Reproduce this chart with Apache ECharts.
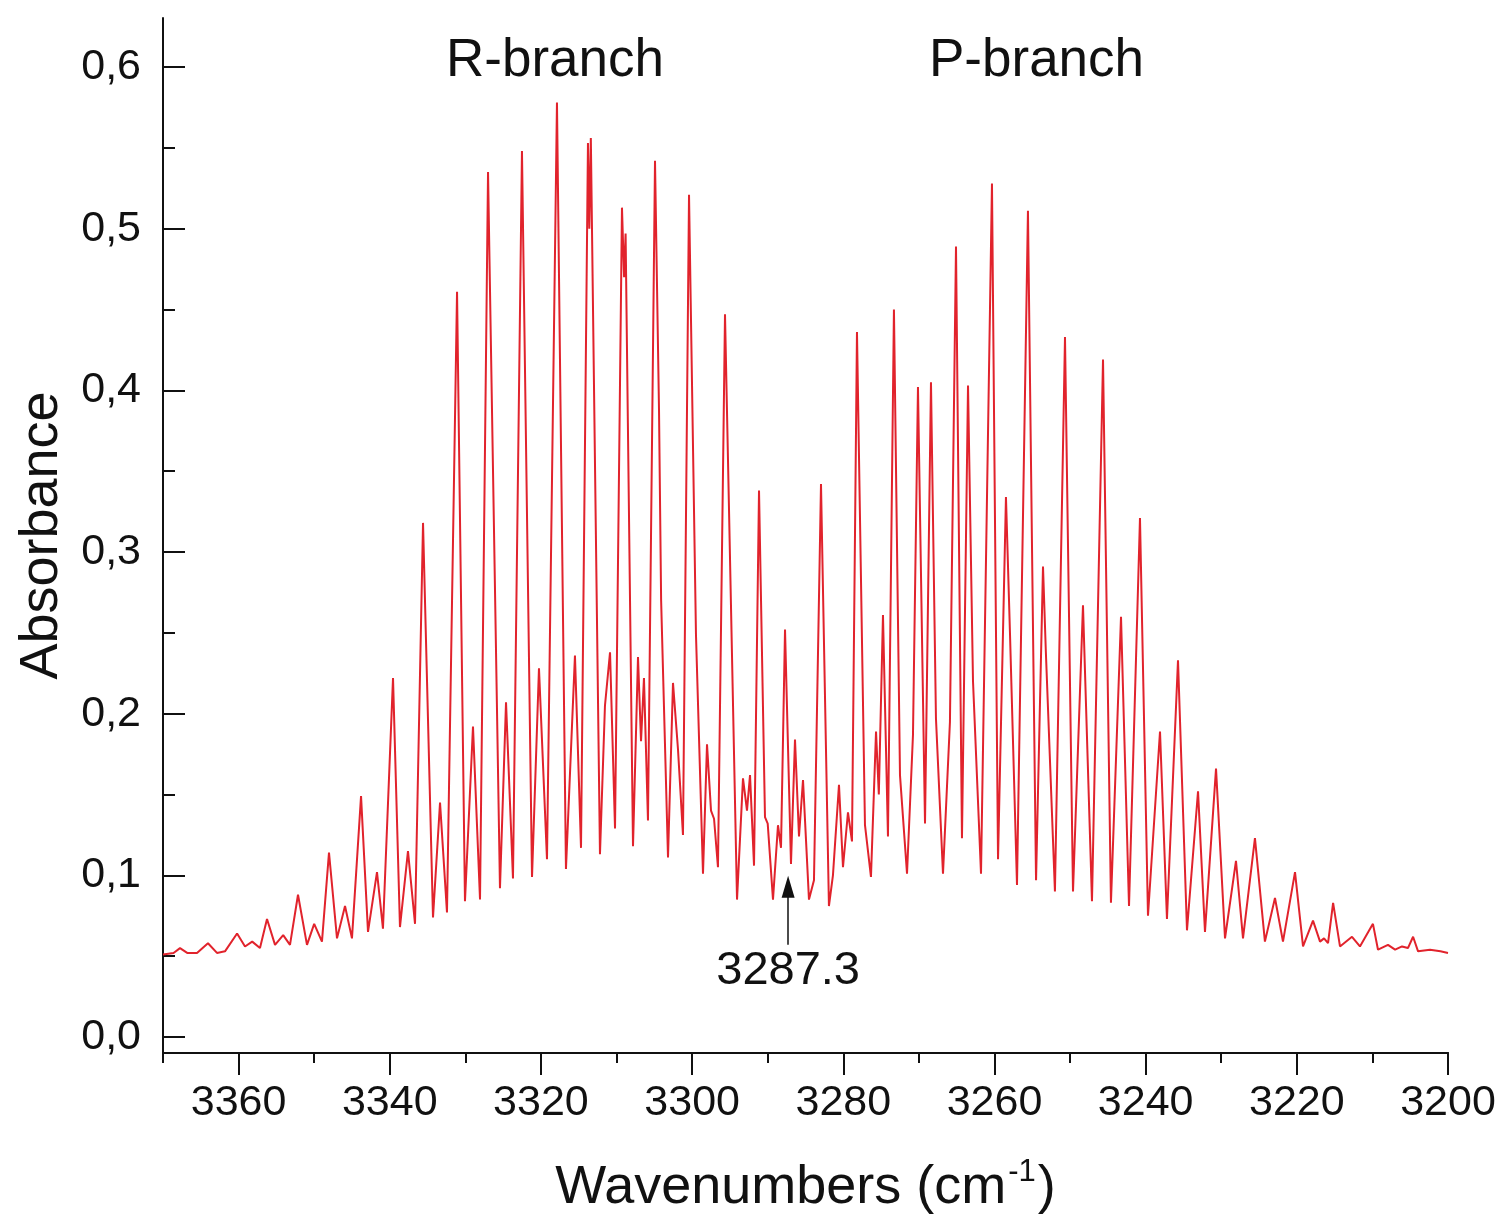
<!DOCTYPE html>
<html>
<head>
<meta charset="utf-8">
<script src="https://cdn.jsdelivr.net/npm/echarts@6.0.0/dist/echarts.min.js"></script>
<style>
  html, body { margin: 0; padding: 0; background: #ffffff; }
  #chart { width: 1503px; height: 1225px; }
</style>
</head>
<body>
<div id="chart"></div>
<script>
// ---- Data ----
const wavenumbers = [
  3370.0, 3368.6, 3367.75, 3366.8, 3365.5, 3364.05, 3362.86, 3361.8, 3360.2, 3359.15,
  3358.2, 3357.17, 3356.24, 3355.18, 3354.1, 3353.2, 3352.14, 3350.95, 3350.0, 3348.97,
  3348.04, 3346.98, 3345.92, 3345.0, 3343.8, 3342.88, 3341.69, 3340.9, 3339.57, 3338.65,
  3337.59, 3336.66, 3335.6, 3334.28, 3333.35, 3332.43, 3331.1, 3330.05, 3328.99, 3328.06,
  3327.0, 3325.42, 3324.62, 3323.7, 3322.51, 3321.18, 3320.26, 3319.2, 3317.88, 3316.69,
  3315.5, 3314.7, 3313.78, 3313.6, 3313.4, 3312.19, 3311.53, 3310.86, 3310.2, 3309.28,
  3309.0, 3308.8, 3308.5, 3307.82, 3307.16, 3306.76, 3306.37, 3305.84, 3304.91, 3304.38,
  3304.1, 3303.19, 3302.53, 3301.87, 3301.21, 3300.41, 3299.49, 3298.56, 3298.03, 3297.5,
  3297.1, 3296.58, 3295.65, 3294.06, 3293.27, 3292.74, 3292.34, 3291.81, 3291.15, 3290.36,
  3290.0, 3289.3, 3288.64, 3288.24, 3287.71, 3286.92, 3286.39, 3285.86, 3285.33, 3284.54,
  3283.88, 3282.95, 3281.9, 3281.37, 3280.57, 3280.04, 3279.38, 3278.85, 3278.19, 3277.13,
  3276.34, 3275.67, 3275.3, 3274.75, 3274.09, 3273.3, 3272.5, 3271.57, 3270.78, 3270.12,
  3269.19, 3268.4, 3267.74, 3266.81, 3265.89, 3265.09, 3264.3, 3263.5, 3262.84, 3261.78,
  3260.33, 3259.53, 3258.48, 3257.95, 3257.02, 3255.57, 3254.5, 3253.58, 3253.2, 3252.0,
  3250.67, 3249.61, 3248.29, 3247.1, 3245.64, 3244.59, 3243.26, 3242.2, 3240.75, 3239.69,
  3238.1, 3237.18, 3235.72, 3234.53, 3233.07, 3232.15, 3230.69, 3229.5, 3228.05, 3227.12,
  3225.54, 3224.22, 3222.89, 3221.83, 3220.24, 3219.18, 3217.86, 3216.93, 3216.4, 3215.87,
  3215.2, 3214.29, 3212.7, 3211.65, 3209.93, 3209.26, 3207.94, 3207.0, 3206.08, 3205.3,
  3204.62, 3203.96, 3202.38, 3201.0, 3200.0
];
const absorbance = [
  0.051, 0.052, 0.055, 0.052, 0.052, 0.058, 0.052, 0.053, 0.064, 0.056,
  0.059, 0.055, 0.073, 0.057, 0.063, 0.057, 0.088, 0.057, 0.070, 0.059,
  0.114, 0.061, 0.081, 0.061, 0.149, 0.065, 0.102, 0.067, 0.222, 0.068,
  0.115, 0.070, 0.318, 0.074, 0.145, 0.077, 0.461, 0.084, 0.192, 0.085,
  0.535, 0.092, 0.207, 0.098, 0.548, 0.099, 0.228, 0.110, 0.578, 0.104,
  0.236, 0.117, 0.553, 0.500, 0.556, 0.113, 0.205, 0.238, 0.129, 0.513,
  0.470, 0.497, 0.380, 0.118, 0.235, 0.183, 0.222, 0.134, 0.542, 0.388,
  0.270, 0.111, 0.219, 0.178, 0.125, 0.521, 0.249, 0.101, 0.181, 0.140,
  0.135, 0.105, 0.447, 0.085, 0.160, 0.140, 0.162, 0.106, 0.338, 0.136,
  0.132, 0.085, 0.131, 0.117, 0.252, 0.107, 0.184, 0.124, 0.159, 0.085,
  0.097, 0.342, 0.081, 0.100, 0.156, 0.105, 0.139, 0.121, 0.436, 0.131,
  0.099, 0.189, 0.150, 0.261, 0.124, 0.450, 0.162, 0.101, 0.187, 0.402,
  0.132, 0.405, 0.197, 0.101, 0.195, 0.489, 0.123, 0.403, 0.220, 0.101,
  0.528, 0.110, 0.334, 0.250, 0.094, 0.511, 0.097, 0.291, 0.238, 0.090,
  0.433, 0.090, 0.267, 0.084, 0.419, 0.083, 0.260, 0.081, 0.321, 0.075,
  0.189, 0.073, 0.233, 0.066, 0.152, 0.065, 0.166, 0.061, 0.109, 0.061,
  0.123, 0.059, 0.086, 0.059, 0.102, 0.056, 0.072, 0.059, 0.061, 0.058,
  0.083, 0.056, 0.062, 0.056, 0.070, 0.054, 0.057, 0.054, 0.056, 0.055,
  0.062, 0.053, 0.054, 0.053, 0.052
];
const yTicks = [0.0, 0.1, 0.2, 0.3, 0.4, 0.5, 0.6];
const xTickLabels = [3360, 3340, 3320, 3300, 3280, 3260, 3240, 3220, 3200];
const branchLabels = ['R-branch', 'P-branch'];
const annotationX = 3287.3;
const annotationArrow = [0.057, 0.093];
const annotationTextY = 0.041;

// ---- Chart ----
const FONT = '"Liberation Sans", Arial, sans-serif';
const INK = '#111111';
const chart = echarts.init(document.getElementById('chart'), null, { renderer: 'canvas' });

const seriesData = wavenumbers.map((w, i) => [w, absorbance[i]]);

const option = {
  animation: false,
  backgroundColor: '#ffffff',
  textStyle: { fontFamily: FONT },
  grid: [
    { left: 163, right: 55, top: 67, bottom: 188 },     // data grid (0 .. 0.6)
    { left: 163, right: 55, top: 18, bottom: 172 },     // frame grid (-0.01 .. 0.63)
    { left: 238.6, right: 55, top: 18, bottom: 172 }    // major x ticks (3360 .. 3200)
  ],
  xAxis: [
    { type: 'value', gridIndex: 0, min: 3200, max: 3370, inverse: true, show: false },
    {
      type: 'value', gridIndex: 1, min: 3200, max: 3370, interval: 10, inverse: true,
      axisLine: { show: true, lineStyle: { color: INK, width: 2 } },
      axisTick: { show: true, inside: false, length: 10, lineStyle: { color: INK, width: 2 } },
      axisLabel: { show: false },
      splitLine: { show: false },
      name: '{a|Wavenumbers (cm}{s|-1}{a|)}',
      nameLocation: 'middle',
      nameGap: 104,
      nameTextStyle: {
        rich: {
          a: { fontFamily: FONT, fontSize: 54, color: INK, lineHeight: 62 },
          s: { fontFamily: FONT, fontSize: 31, color: INK, verticalAlign: 'top', lineHeight: 62, padding: [0, 2, 22, 2] }
        }
      }
    },
    {
      type: 'value', gridIndex: 2, min: 3200, max: 3360, interval: 20, inverse: true,
      axisLine: { show: true, lineStyle: { color: INK, width: 2 } },
      axisTick: { show: true, inside: false, length: 22, lineStyle: { color: INK, width: 2 } },
      axisLabel: {
        show: true, fontFamily: FONT, fontSize: 43, color: INK, margin: 29,
        formatter: (v) => xTickLabels.includes(v) ? String(v) : ''
      },
      splitLine: { show: false }
    }
  ],
  yAxis: [
    {
      type: 'value', gridIndex: 0, min: 0, max: 0.6, interval: 0.1,
      axisLine: { show: true, lineStyle: { color: INK, width: 2 } },
      axisTick: { show: true, inside: true, length: 22, lineStyle: { color: INK, width: 2 } },
      minorTick: { show: true, splitNumber: 2, length: 12, lineStyle: { color: INK, width: 2 } },
      axisLabel: {
        show: true, fontFamily: FONT, fontSize: 43, color: INK, margin: 22,
        formatter: (v) => {
          const r = Math.round(v * 10) / 10;
          return yTicks.some(t => Math.abs(t - r) < 1e-9) ? r.toFixed(1).replace('.', ',') : '';
        }
      },
      splitLine: { show: false },
      minorSplitLine: { show: false }
    },
    {
      type: 'value', gridIndex: 1, min: 0, max: 1,
      axisLine: { show: true, lineStyle: { color: INK, width: 2 } },
      axisTick: { show: false },
      axisLabel: { show: false },
      splitLine: { show: false },
      name: 'Absorbance',
      nameLocation: 'middle',
      nameGap: 94,
      nameTextStyle: { fontFamily: FONT, fontSize: 54, color: INK }
    },
    { type: 'value', gridIndex: 2, min: 0, max: 1, show: false }
  ],
  graphic: [
    {
      type: 'text', left: 446, top: 35,
      style: { text: branchLabels[0], font: '53px ' + FONT, fill: INK }
    },
    {
      type: 'text', left: 929, top: 35,
      style: { text: branchLabels[1], font: '53px ' + FONT, fill: INK }
    }
  ],
  series: [
    {
      type: 'line',
      xAxisIndex: 0,
      yAxisIndex: 0,
      data: seriesData,
      showSymbol: false,
      symbol: 'none',
      smooth: false,
      clip: false,
      lineStyle: { color: '#e1232c', width: 2 },
      itemStyle: { color: '#e1232c' },
      markLine: {
        silent: true,
        symbol: ['none', 'triangle'],
        symbolSize: [13, 22],
        lineStyle: { color: INK, width: 1.5, type: 'solid' },
        itemStyle: { color: INK },
        label: { show: false },
        data: [[
          { coord: [annotationX, annotationArrow[0]] },
          { coord: [annotationX, annotationArrow[1]] }
        ]]
      },
      markPoint: {
        silent: true,
        symbol: 'circle',
        symbolSize: 0,
        label: {
          show: true, position: 'inside', fontFamily: FONT, fontSize: 47, color: INK,
          formatter: () => annotationX.toFixed(1)
        },
        data: [{ coord: [annotationX, annotationTextY], value: annotationX }]
      }
    }
  ]
};

chart.setOption(option);
</script>
</body>
</html>
